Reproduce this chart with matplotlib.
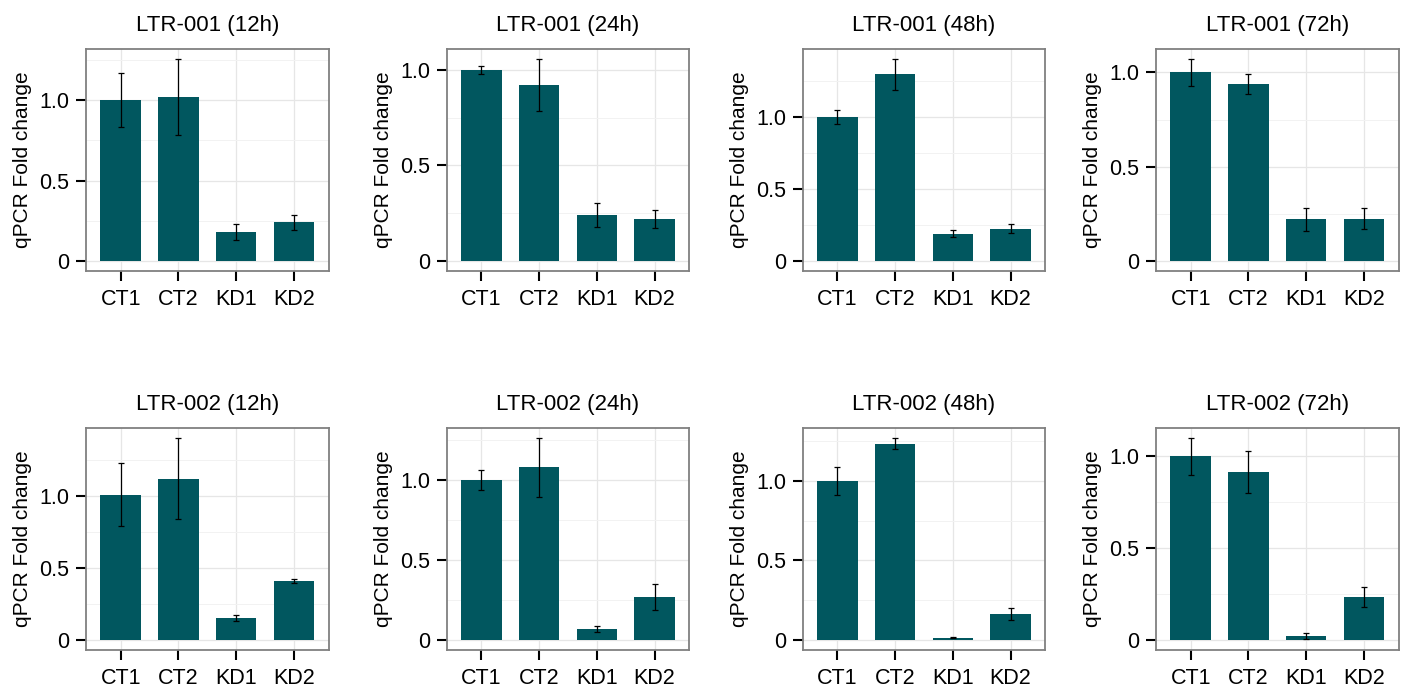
import matplotlib
matplotlib.use('Agg')
import matplotlib.pyplot as plt
import numpy as np
from matplotlib.ticker import FixedLocator, FuncFormatter

plt.rcParams['font.family'] = ['Liberation Sans', 'DejaVu Sans']

groups = ['CT1', 'CT2', 'KD1', 'KD2']
titles = ['LTR-001 (12h)', 'LTR-001 (24h)', 'LTR-001 (48h)', 'LTR-001 (72h)',
          'LTR-002 (12h)', 'LTR-002 (24h)', 'LTR-002 (48h)', 'LTR-002 (72h)']

# mean fold change per panel (CT1, CT2, KD1, KD2)
ltr001_12h = [1.00, 1.02, 0.18, 0.24]
ltr001_24h = [1.00, 0.92, 0.24, 0.22]
ltr001_48h = [1.00, 1.30, 0.19, 0.225]
ltr001_72h = [1.00, 0.94, 0.22, 0.225]
ltr002_12h = [1.01, 1.12, 0.152, 0.409]
ltr002_24h = [1.00, 1.08, 0.069, 0.27]
ltr002_48h = [1.00, 1.234, 0.013, 0.163]
ltr002_72h = [1.00, 0.915, 0.022, 0.233]

# error bar half-widths
err001_12h = [0.168, 0.236, 0.047, 0.046]
err001_24h = [0.019, 0.137, 0.064, 0.048]
err001_48h = [0.048, 0.106, 0.023, 0.031]
err001_72h = [0.071, 0.053, 0.062, 0.055]
err002_12h = [0.218, 0.282, 0.021, 0.015]
err002_24h = [0.062, 0.183, 0.021, 0.083]
err002_48h = [0.089, 0.034, 0.004, 0.038]
err002_72h = [0.100, 0.113, 0.015, 0.053]

means = [ltr001_12h, ltr001_24h, ltr001_48h, ltr001_72h,
         ltr002_12h, ltr002_24h, ltr002_48h, ltr002_72h]
errs = [err001_12h, err001_24h, err001_48h, err001_72h,
        err002_12h, err002_24h, err002_48h, err002_72h]

W, H = 1409, 695
fig = plt.figure(figsize=(W / 100, H / 100), dpi=100)

lefts = [86, 446.7, 802.7, 1156]
tops = [49, 428]
aw, ah = 242.5, 222

bar_col = '#01575f'
x = np.arange(1, 5)

for i in range(8):
    r, c = divmod(i, 4)
    ax = fig.add_axes([lefts[c] / W, (H - tops[r] - ah) / H, aw / W, ah / H])
    m = np.array(means[i]); e = np.array(errs[i])
    ax.bar(x, m, width=0.7, color=bar_col, zorder=2)
    ax.errorbar(x, m, yerr=e, fmt='none', ecolor='black', elinewidth=0.9,
                capsize=2, capthick=0.9, zorder=3)
    top = (m + e).max()
    ax.set_ylim(-0.05 * top, 1.05 * top)
    ax.set_xlim(0.4, 4.6)
    ax.set_xticks(x)
    ax.set_xticklabels(groups)
    ax.yaxis.set_major_locator(FixedLocator([0, 0.5, 1.0]))
    ax.yaxis.set_minor_locator(FixedLocator([0.25, 0.75, 1.25]))
    ax.yaxis.set_major_formatter(FuncFormatter(lambda v, p: '0' if v == 0 else f'{v:.1f}'))
    ax.grid(True, which='major', color='#e6e6e6', lw=0.9, zorder=0)
    ax.grid(True, which='minor', axis='y', color='#f2f2f2', lw=0.7, zorder=0)
    ax.set_axisbelow(True)
    ax.tick_params(which='major', direction='out', length=7, width=1.5,
                   color='black', labelsize=15.5)
    ax.tick_params(axis='y', pad=5)
    ax.tick_params(axis='x', pad=6)
    ax.tick_params(which='minor', length=0)
    for s in ax.spines.values():
        s.set_color('#808080')
        s.set_linewidth(1.3)
    ax.set_ylabel('qPCR Fold change', fontsize=15, labelpad=5)
    ax.set_title(titles[i], fontsize=16, pad=13)

fig.savefig('out.png', dpi=100)
